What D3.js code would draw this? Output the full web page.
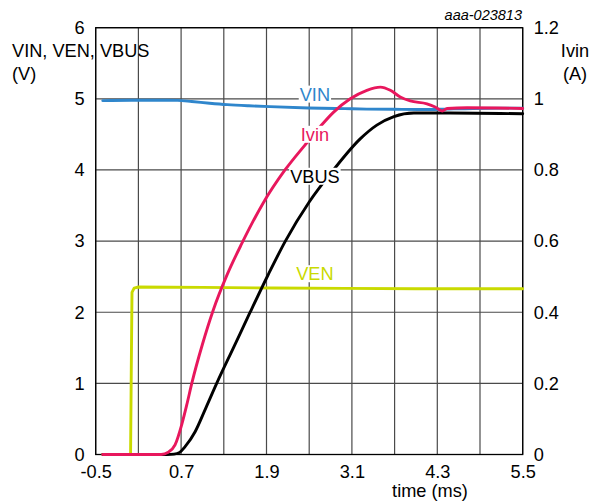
<!DOCTYPE html>
<html>
<head>
<meta charset="utf-8">
<script src="https://cdn.jsdelivr.net/npm/d3@7"></script>
<style>
  html, body { margin: 0; padding: 0; background: #fff; }
  svg { display: block; font-family: "Liberation Sans", Arial, sans-serif; }
</style>
</head>
<body>
<svg id="chart" width="600" height="501"></svg>
<script>
// ---- data (time in ms) ----
const xTicks = [-0.5, 0.7, 1.9, 3.1, 4.3, 5.5];
const xGrid = [-0.5, 0.1, 0.7, 1.3, 1.9, 2.5, 3.1, 3.7, 4.3, 4.9, 5.5];
const leftTicks = [0, 1, 2, 3, 4, 5, 6];
const rightTicks = [0, 0.2, 0.4, 0.6, 0.8, 1, 1.2];
const xTickLabels = ["-0.5", "0.7", "1.9", "3.1", "4.3", "5.5"];
const rightTickLabels = ["0", "0.2", "0.4", "0.6", "0.8", "1", "1.2"];

const vinT = [-0.4, 0.0, 0.4, 0.65, 0.85, 1.1, 1.35, 1.65, 1.95, 2.49, 3.0, 3.31, 3.8, 4.2, 4.4, 4.8, 5.5];
const vinV = [4.975, 4.98, 4.98, 4.978, 4.962, 4.938, 4.918, 4.902, 4.89, 4.872, 4.862, 4.856, 4.852, 4.85, 4.855, 4.865, 4.87];

const venT = [-0.4, -0.01, 0.0, 0.01, 0.04, 0.1, 1.0, 2.0, 3.0, 4.0, 5.5];
const venV = [0, 0, 1.2, 2.28, 2.34, 2.355, 2.35, 2.34, 2.335, 2.33, 2.33];

const vbusT = [-0.4, 0.5, 0.6, 0.68, 0.756, 0.897, 1.05, 1.2, 1.44, 1.67, 1.92, 2.165, 2.5, 2.84, 3.22, 3.45, 3.69, 3.97, 4.48, 5.5];
const vbusV = [0, 0, 0.005, 0.03, 0.11, 0.32, 0.66, 1.0, 1.51, 2.0, 2.52, 3.0, 3.55, 4.0, 4.44, 4.63, 4.75, 4.80, 4.80, 4.79];

const ivinT = [-0.4, 0.42, 0.52, 0.615, 0.71, 0.78, 0.85, 1.0, 1.15, 1.35, 1.55, 1.85, 2.16, 2.44, 2.655, 2.84, 3.077, 3.31, 3.5, 3.64, 3.78, 3.92, 4.155, 4.27, 4.37, 4.44, 4.72, 5.5];
const ivinA = [0, 0, 0.006, 0.027, 0.085, 0.14, 0.2, 0.31, 0.405, 0.507, 0.592, 0.706, 0.8, 0.87, 0.922, 0.962, 1.0, 1.024, 1.033, 1.024, 1.005, 0.994, 0.986, 0.977, 0.966, 0.973, 0.975, 0.973];

const seriesNames = ["VEN", "VIN", "VBUS", "Ivin"];
const seriesColors = ["#c9da00", "#2f86cc", "#000000", "#e8175d"];
// label anchor positions (time, left-axis volts at baseline)
const labelT = [2.58, 2.58, 2.58, 2.58];
const labelV = [2.45, 4.975, 3.82, 4.41];

// ---- layout ----
const svg = d3.select("#chart");
const L = 95.7, R = 522.7, T = 27.7, B = 454.5;
const x = d3.scaleLinear().domain([-0.5, 5.5]).range([L, R]);
const yL = d3.scaleLinear().domain([0, 6]).range([B, T]);
const yR = d3.scaleLinear().domain([0, 1.2]).range([B, T]);
const FS = 18.2;
const FF = '"Liberation Sans", Arial, sans-serif';

// grid
const grid = svg.append("g");
grid.selectAll(".vg").data(xGrid).join("line")
  .attr("x1", d => x(d)).attr("x2", d => x(d)).attr("y1", T).attr("y2", B)
  .attr("stroke", "#4a4a4a").attr("stroke-width", 1.2);
grid.selectAll(".hg").data(leftTicks).join("line")
  .attr("x1", L).attr("x2", R).attr("y1", d => yL(d)).attr("y2", d => yL(d))
  .attr("stroke", "#4a4a4a").attr("stroke-width", 1.2);
// frame
svg.append("rect").attr("x", L).attr("y", T).attr("width", R - L).attr("height", B - T)
  .attr("fill", "none").attr("stroke", "#000").attr("stroke-width", 1.3);

// axes (labels only, lines drawn as grid/frame)
const axB = d3.axisBottom(x).tickValues(xTicks).tickSize(0).tickPadding(0)
  .tickFormat((d, i) => xTickLabels[i]);
const gB = svg.append("g").attr("transform", `translate(0,${B})`).call(axB);
gB.select(".domain").remove();
gB.selectAll("text").attr("font-size", FS).attr("fill", "#000")
  .attr("font-family", FF).attr("dy", null).attr("y", 23.5);

const axL = d3.axisLeft(yL).tickValues(leftTicks).tickSize(0).tickPadding(11).tickFormat(d3.format("d"));
const gL = svg.append("g").attr("transform", `translate(${L},0)`).call(axL);
gL.select(".domain").remove();
gL.selectAll("text").attr("font-size", FS).attr("fill", "#000").attr("font-family", FF);

const axR = d3.axisRight(yR).tickValues(rightTicks).tickSize(0).tickPadding(11)
  .tickFormat((d, i) => rightTickLabels[i]);
const gR = svg.append("g").attr("transform", `translate(${R},0)`).call(axR);
gR.select(".domain").remove();
gR.selectAll("text").attr("font-size", FS).attr("fill", "#000").attr("font-family", FF);

// series lines
const mk = (ts, vs, ys) => ts.map((t, i) => [x(t), ys(vs[i])]);
const smooth = d3.line().curve(d3.curveMonotoneX);
const linLine = d3.line();
const lines = [
  { pts: mk(venT, venV, yL), gen: linLine },
  { pts: mk(vinT, vinV, yL), gen: smooth },
  { pts: mk(vbusT, vbusV, yL), gen: smooth },
  { pts: mk(ivinT, ivinA, yR), gen: smooth }
];
const gLines = svg.append("g");
lines.forEach((s, i) => {
  gLines.append("path").attr("d", s.gen(s.pts))
    .attr("fill", "none").attr("stroke", seriesColors[i])
    .attr("stroke-width", 2.9).attr("stroke-linejoin", "round").attr("stroke-linecap", "round");
});

// series labels with white background
const gLab = svg.append("g");
seriesNames.forEach((n, i) => {
  const g = gLab.append("g");
  const txt = g.append("text").attr("x", x(labelT[i])).attr("y", yL(labelV[i]))
    .attr("text-anchor", "middle").attr("font-size", FS).attr("fill", seriesColors[i]).text(n);
  const bb = txt.node().getBBox();
  g.insert("rect", "text").attr("x", bb.x - 1).attr("y", bb.y + 1).attr("width", bb.width + 2).attr("height", bb.height - 3)
    .attr("fill", "#fff");
});

// titles
svg.append("text").attr("x", 12).attr("y", 57).attr("font-size", FS).text("VIN, VEN, VBUS");
svg.append("text").attr("x", 12).attr("y", 80).attr("font-size", FS).text("(V)");
svg.append("text").attr("x", 575).attr("y", 57).attr("font-size", FS).attr("text-anchor", "middle").text("Ivin");
svg.append("text").attr("x", 575).attr("y", 80).attr("font-size", FS).attr("text-anchor", "middle").text("(A)");
svg.append("text").attr("x", 430).attr("y", 497).attr("font-size", FS).attr("text-anchor", "middle").text("time (ms)");
svg.append("text").attr("x", 522).attr("y", 20).attr("font-size", 14.5).attr("font-style", "italic")
  .attr("text-anchor", "end").text("aaa-023813");
</script>
</body>
</html>
